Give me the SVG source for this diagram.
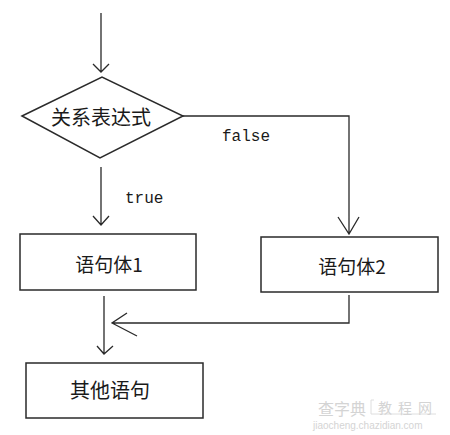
<svg xmlns="http://www.w3.org/2000/svg" width="450" height="435" viewBox="0 0 450 435">
<style>
.ln{fill:none;stroke:#2a2a2a;stroke-width:1.3}
.bx{fill:#fff;stroke:#2a2a2a;stroke-width:1.5}
.cj{font-family:"SimSun","Noto Sans CJK SC",sans-serif;font-size:19px;fill:#1a1a1a;text-anchor:middle}
.mn{font-family:"Liberation Mono",monospace;font-size:16px;fill:#1a1a1a}
.wm{font-family:"Noto Sans CJK SC",sans-serif;fill:#d4d4d4}
</style>
<rect width="450" height="435" fill="#fff"/>
<g id="connectors">
<path class="ln" d="M101,13 V72 M93,64 L101,72 L109,64"/>
<path class="ln" d="M101,167 V225 M93,216 L101,225 L109,216"/>
<path class="ln" d="M183,116 H349 V234 M338,217 L349,234 L359,217"/>
<path class="ln" d="M349,295 V323 H112 M127,313 L112,323 L137,336"/>
<path class="ln" d="M104,296 V354 M97,346 L104,354 L113,346"/>
<text class="mn" x="222" y="141">false</text>
<text class="mn" x="125" y="203">true</text>
</g>
<g id="cond">
<polygon class="bx" points="22,116 102,77 183,116 100,158"/>
<text class="cj" x="101" y="125" style="font-size:20px">关系表达式</text>
</g>
<g id="body1">
<rect class="bx" x="20" y="234" width="176" height="56"/>
<text class="cj" x="109" y="272">语句体1</text>
</g>
<g id="body2">
<rect class="bx" x="261" y="237" width="177" height="55"/>
<text class="cj" x="352" y="274">语句体2</text>
</g>
<g id="other">
<rect class="bx" x="26" y="363" width="177" height="55"/>
<text class="cj" x="110" y="398" style="font-size:20px">其他语句</text>
</g>
<g id="watermark">
<text class="wm" x="318" y="415" style="font-size:16px">查字典</text>
<path d="M374,400 H371 V414 H436" fill="none" stroke="#dedede" stroke-width="1"/>
<text class="wm" x="378" y="413" style="font-size:14px" letter-spacing="6">教程网</text>
<text class="wm" x="313" y="429" style="font-family:'Liberation Sans',sans-serif;font-size:10px">jiaocheng.chazidian.com</text>
</g>
</svg>
